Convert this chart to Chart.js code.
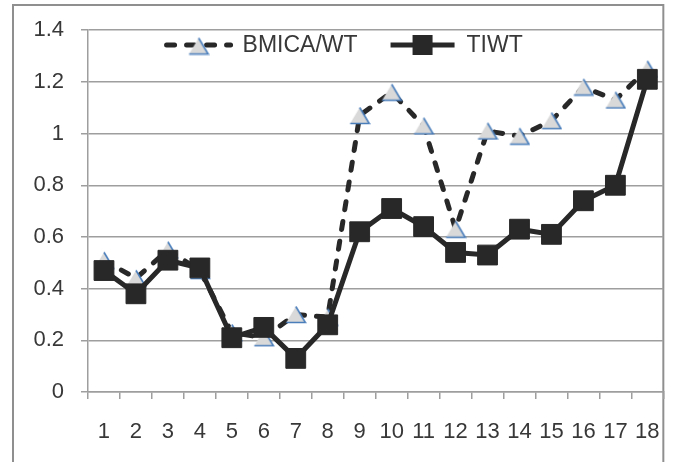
<!DOCTYPE html>
<html>
<head>
<meta charset="utf-8">
<script src="https://cdn.jsdelivr.net/npm/chart.js@4.4.0/dist/chart.umd.min.js"></script>
<style>
  html, body { margin: 0; padding: 0; background: #fff; }
  #wrap { position: relative; width: 680px; height: 462px; }
</style>
</head>
<body>
<div id="wrap"><canvas id="c" width="680" height="462"></canvas></div>
<script>
// Sample index along the x axis
const categories = ['1','2','3','4','5','6','7','8','9','10','11','12','13','14','15','16','17','18'];

// Series values
const bmicaWt = [0.51, 0.44, 0.55, 0.47, 0.23, 0.21, 0.30, 0.29, 1.07, 1.16, 1.03, 0.63, 1.01, 0.99, 1.05, 1.18, 1.13, 1.25];
const tiwt    = [0.47, 0.38, 0.51, 0.48, 0.21, 0.25, 0.13, 0.26, 0.62, 0.71, 0.64, 0.54, 0.53, 0.63, 0.61, 0.74, 0.80, 1.21];

// Series names
const seriesNames = ['BMICA/WT', 'TIWT'];

// Value axis ticks
const yTickValues = [0, 0.2, 0.4, 0.6, 0.8, 1, 1.2, 1.4];
const yTickLabels = ['0', '0.2', '0.4', '0.6', '0.8', '1', '1.2', '1.4'];

const FONT = '"Liberation Sans", Arial, sans-serif';
const TEXT = '#383838';
const GRID = '#9e9e9e';
const INK = '#282828';

// Light grey triangle marker with a blue edge on the right side and base
function makeTriangle() {
  const w = 22, h = 19;
  const cv = document.createElement('canvas');
  cv.width = w; cv.height = h;
  const g = cv.getContext('2d');
  g.beginPath();
  g.moveTo(1.5, h - 1.5);
  g.lineTo(w / 2, 1.5);
  g.lineTo(w - 1.5, h - 1.5);
  g.closePath();
  g.fillStyle = '#d9d9d9';
  g.fill();
  g.beginPath();
  g.moveTo(w / 2, 1.5);
  g.lineTo(w - 1.5, h - 1.5);
  g.lineTo(1.5, h - 1.5);
  g.strokeStyle = '#4a7ebb';
  g.lineWidth = 1.6;
  g.stroke();
  return cv;
}
const triangle = makeTriangle();

// Outer frame of the chart
const framePlugin = {
  id: 'frame',
  beforeDraw(chart) {
    const ctx = chart.ctx;
    ctx.save();
    ctx.fillStyle = '#fff';
    ctx.fillRect(0, 0, chart.width, chart.height);
    ctx.strokeStyle = '#8f8f8f';
    ctx.lineWidth = 2;
    ctx.strokeRect(13, 5, chart.chartArea.right - 13, chart.height + 10);
    ctx.restore();
  }
};

// Legend drawn inside the plot area: line sample with marker, then the name
const legendPlugin = {
  id: 'insideLegend',
  afterDraw(chart) {
    const ctx = chart.ctx;
    const ds = chart.data.datasets;
    ctx.save();
    ctx.font = '23px ' + FONT;
    const sample = 70, gapText = 9, gapItem = 30;
    const widths = ds.map(d => ctx.measureText(d.label).width);
    const total = widths.reduce((a, b) => a + b, 0) + ds.length * (sample + gapText) + gapItem * (ds.length - 1);
    const cx = (13 + chart.chartArea.right) / 2 + 5;
    const y = 45;
    let x = cx - total / 2;
    ds.forEach((d, i) => {
      ctx.beginPath();
      ctx.lineWidth = d.borderWidth;
      ctx.strokeStyle = d.borderColor;
      ctx.lineCap = d.borderDash ? 'round' : 'butt';
      ctx.setLineDash(d.borderDash || []);
      ctx.moveTo(x + 3, y);
      ctx.lineTo(x + sample - 3, y);
      ctx.stroke();
      ctx.setLineDash([]);
      const mx = x + sample / 2;
      if (d.pointStyle === 'rect') {
        ctx.fillStyle = d.pointBackgroundColor;
        ctx.fillRect(mx - 10, y - 10, 20, 20);
      } else {
        ctx.drawImage(triangle, mx - triangle.width / 2, y - triangle.height / 2 + 1);
      }
      ctx.fillStyle = TEXT;
      ctx.textBaseline = 'middle';
      ctx.textAlign = 'left';
      ctx.fillText(d.label, x + sample + gapText, y + 1);
      x += sample + gapText + widths[i] + gapItem;
    });
    ctx.restore();
  }
};

new Chart(document.getElementById('c'), {
  type: 'line',
  data: {
    labels: categories,
    datasets: [
      {
        label: seriesNames[0],
        data: bmicaWt,
        order: 1,
        borderColor: INK,
        borderWidth: 5,
        borderDash: [8, 12],
        borderCapStyle: 'round',
        pointStyle: triangle,
        pointRadius: 10,
        pointHoverRadius: 10,
        tension: 0
      },
      {
        label: seriesNames[1],
        data: tiwt,
        order: 0,
        borderColor: INK,
        borderWidth: 5,
        pointStyle: 'rect',
        pointRadius: 14,
        pointHoverRadius: 14,
        pointBackgroundColor: INK,
        pointBorderColor: INK,
        pointBorderWidth: 1,
        tension: 0
      }
    ]
  },
  options: {
    responsive: false,
    animation: false,
    events: [],
    layout: { padding: { left: 13, top: 22, right: 7, bottom: 0 } },
    plugins: {
      legend: { display: false },
      tooltip: { enabled: false }
    },
    scales: {
      x: {
        type: 'category',
        offset: true,
        grid: {
          offset: true,
          drawOnChartArea: false,
          drawTicks: true,
          tickLength: 7,
          color: GRID,
          lineWidth: 1.5
        },
        border: { display: true, color: GRID, width: 1.5 },
        ticks: {
          color: TEXT,
          font: { family: FONT, size: 22 },
          padding: 20,
          maxRotation: 0,
          autoSkip: false
        },
        afterFit(scale) { scale.height = 70; }
      },
      y: {
        min: 0,
        max: 1.4,
        afterBuildTicks(scale) {
          scale.ticks = yTickValues.map(v => ({ value: v }));
        },
        grid: {
          color: GRID,
          lineWidth: 1.5,
          drawTicks: true,
          tickLength: 7
        },
        border: { display: true, color: GRID, width: 1.5 },
        ticks: {
          color: TEXT,
          font: { family: FONT, size: 22 },
          padding: 17,
          callback(value) {
            const i = yTickValues.indexOf(value);
            return i >= 0 ? yTickLabels[i] : '';
          }
        },
        afterFit(scale) { scale.width = 75; }
      }
    }
  },
  plugins: [framePlugin, legendPlugin]
});
</script>
</body>
</html>
